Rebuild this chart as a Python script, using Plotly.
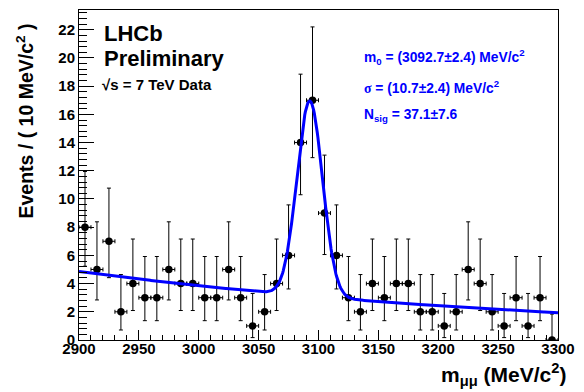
import numpy as np
import plotly.graph_objects as go

# ---- data ----
mass_centers = [2905, 2915, 2925, 2935, 2945, 2955, 2965, 2975, 2985, 2995,
                3005, 3015, 3025, 3035, 3045, 3055, 3065, 3075, 3085, 3095,
                3105, 3115, 3125, 3135, 3145, 3155, 3165, 3175, 3185, 3195,
                3205, 3215, 3225, 3235, 3245, 3255, 3265, 3275, 3285, 3295]
counts = [8, 5, 7, 2, 4, 3, 3, 5, 4, 4,
          3, 3, 5, 3, 1, 2, 4, 6, 14, 17,
          9, 6, 3, 2, 4, 3, 4, 4, 2, 2,
          1, 2, 5, 4, 2, 1, 3, 1, 3, 0]
# asymmetric (Poisson-like) error bars as drawn in the picture
err_up_by_count = {0: 1.84, 1: 2.30, 2: 2.64, 3: 2.92, 4: 3.16, 5: 3.38,
                   6: 3.58, 7: 3.77, 8: 3.95, 9: 4.11, 14: 4.85, 17: 5.2}
err_dn_by_count = {0: 0.0, 1: 0.83, 2: 1.29, 3: 1.63, 4: 1.91, 5: 2.16,
                   6: 2.38, 7: 2.58, 8: 2.77, 9: 2.94, 14: 3.70, 17: 4.07}
err_up = [err_up_by_count[c] for c in counts]
err_dn = [err_dn_by_count[c] for c in counts]
bin_half_width = 5

# fit parameters (signal values as printed on the chart; background)
m0 = 3092.7
sigma = 10.7
n_sig = 37.1
bin_width = 10
bkg_at_2900 = 4.85
bkg_slope = -0.0023

x_ticks = [2900, 2950, 3000, 3050, 3100, 3150, 3200, 3250, 3300]
y_ticks = [0, 2, 4, 6, 8, 10, 12, 14, 16, 18, 20, 22]

# fit curve from the model
m = np.linspace(2900, 3300, 801)
curve = bkg_at_2900 * np.exp(bkg_slope * (m - 2900)) + \
    n_sig * bin_width / (np.sqrt(2 * np.pi) * sigma) * np.exp(-0.5 * ((m - m0) / sigma) ** 2)

FONT = "Liberation Sans"
BLUE = "#0000ff"

fig = go.Figure()
fig.add_trace(go.Scatter(
    x=mass_centers, y=counts, mode="markers",
    marker=dict(color="black", size=7.5),
    error_y=dict(type="data", symmetric=False, array=err_up, arrayminus=err_dn,
                 color="black", thickness=1, width=2),
    error_x=dict(type="constant", value=bin_half_width, color="black",
                 thickness=1, width=2),
    showlegend=False, hoverinfo="skip"))
fig.add_trace(go.Scatter(
    x=m, y=curve, mode="lines", line=dict(color=BLUE, width=3),
    showlegend=False, hoverinfo="skip"))

fig.update_layout(
    width=584, height=392,
    margin=dict(l=79, r=18, t=9, b=52),
    paper_bgcolor="white", plot_bgcolor="white",
    font=dict(family=FONT, color="black"),
)
fig.update_xaxes(
    range=[2900, 3300], tickvals=x_ticks, ticktext=[str(v) for v in x_ticks],
    ticks="inside", ticklen=10, tickwidth=1, tickcolor="black",
    minor=dict(dtick=10, tick0=2900, ticks="inside", ticklen=5, tickcolor="black", tickwidth=1),
    showline=True, linecolor="black", linewidth=1, mirror=True,
    showgrid=False, zeroline=False, ticklabelstandoff=-5,
    tickfont=dict(family=FONT, size=15, weight="bold", color="black"),
)
fig.update_yaxes(
    range=[0, 23.4], tickvals=y_ticks, ticktext=[str(v) for v in y_ticks],
    ticks="inside", ticklen=15, tickwidth=1, tickcolor="black",
    minor=dict(dtick=0.4, tick0=0, ticks="inside", ticklen=8, tickcolor="black", tickwidth=1),
    showline=True, linecolor="black", linewidth=1, mirror=True,
    showgrid=False, zeroline=False,
    tickfont=dict(family=FONT, size=15, weight="bold", color="black"),
)

def ann(text, x, y, size, color="black", xanchor="left"):
    fig.add_annotation(text=text, x=x, y=y, xref="paper", yref="paper",
                       xanchor=xanchor, yanchor="middle", showarrow=False,
                       font=dict(family=FONT, size=size, color=color, weight="bold"))

def px(x, y):
    # convert pixel position in the image to paper coords
    return (x - 79) / (566 - 79), (340 - y) / (340 - 9)

# axis titles
x, y = px(24, 120)
fig.add_annotation(text="Events / ( 10 MeV/c<sup>2</sup> )", x=x, y=y,
                   xref="paper", yref="paper", textangle=-90, showarrow=False,
                   xanchor="center", yanchor="middle",
                   font=dict(family=FONT, size=19.5, weight="bold"))
x, y = px(576, 375)
fig.add_annotation(text="m<sub>μμ</sub> (MeV/c<sup>2</sup>)", x=x, y=y,
                   xref="paper", yref="paper", showarrow=False,
                   xanchor="right", yanchor="middle",
                   font=dict(family=FONT, size=21, weight="bold"))

x, y = px(102, 33); ann("LHCb", x, y, 22)
x, y = px(102, 58); ann("Preliminary", x, y, 22)
x, y = px(100, 84); ann("√s = 7 TeV Data", x, y, 15)

x, y = px(367, 56); ann("m<sub>0</sub> = (3092.7±2.4) MeV/c<sup>2</sup>", x, y, 13.8, BLUE)
x, y = px(367, 86); ann("<span style='font-family:Liberation Serif'>σ</span> = (10.7±2.4) MeV/c<sup>2</sup>", x, y, 13.8, BLUE)
x, y = px(367, 115); ann("N<sub>sig</sub> = 37.1±7.6", x, y, 13.8, BLUE)

fig.write_html("out.html", config={"displayModeBar": False},
               post_script="document.body.style.margin='0px';document.body.style.overflow='hidden';")
